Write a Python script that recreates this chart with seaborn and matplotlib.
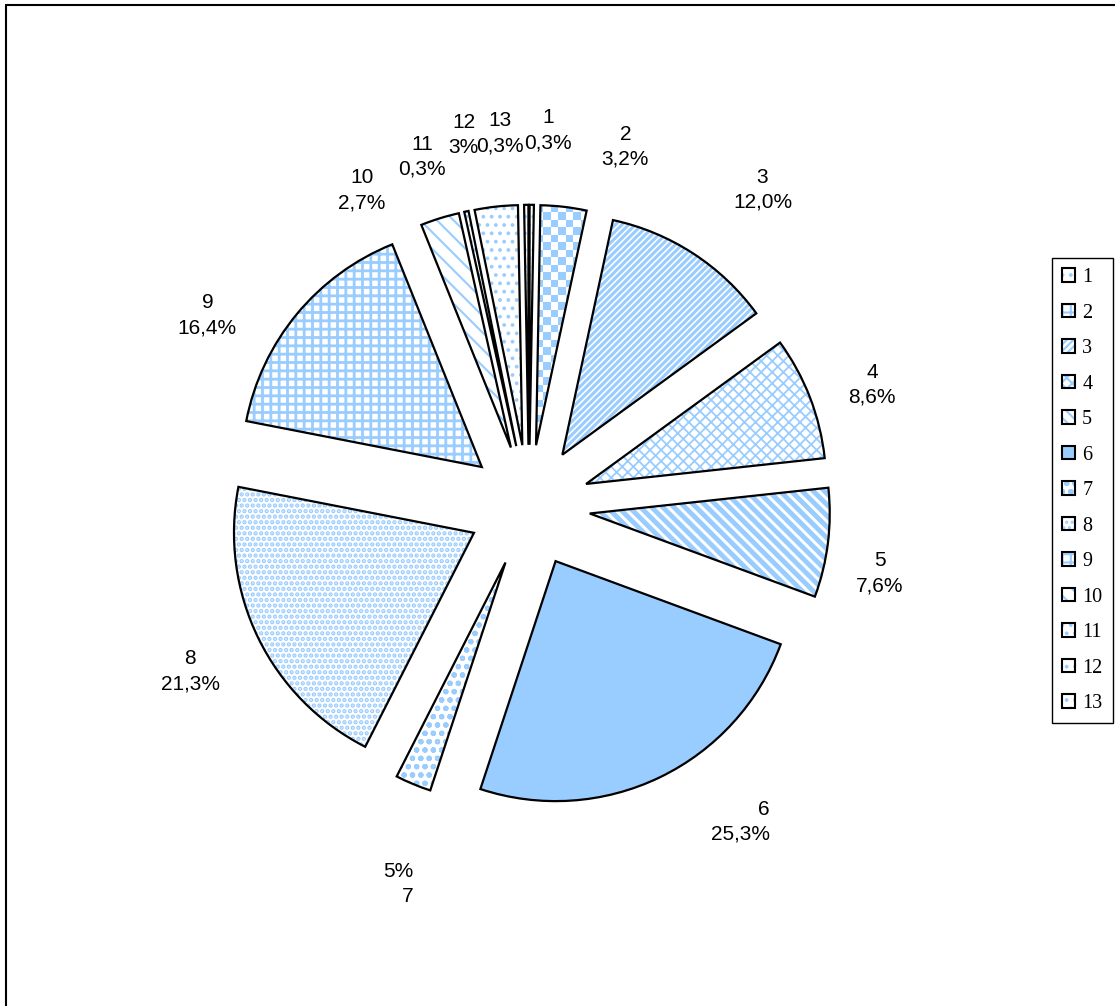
import numpy as np
import pandas as pd
import seaborn as sns
import matplotlib.pyplot as plt
from matplotlib.colors import ListedColormap
from matplotlib.patches import Patch
from matplotlib.legend_handler import HandlerTuple
from matplotlib.lines import Line2D

# data
categories = ['1', '2', '3', '4', '5', '6', '7', '8', '9', '10', '11', '12', '13']
shares = [0.3, 3.2, 12.0, 8.6, 7.6, 25.3, 2.5, 21.3, 16.4, 2.7, 0.3, 3.0, 0.3]
pct_text = ['0,3%', '3,2%', '12,0%', '8,6%', '7,6%', '25,3%', '5%',
            '21,3%', '16,4%', '2,7%', '0,3%', '3%', '0,3%']

df = pd.DataFrame({'cat': categories, 'share': shares, 'pct': pct_text})

sns.set_style('white')
plt.rcParams['font.family'] = ['Liberation Sans', 'DejaVu Sans']
plt.rcParams['text.color'] = 'black'
plt.rcParams['hatch.linewidth'] = 1.5

blue = '#99CCFF'
# fill patterns per slice (slice 2 gets a checkerboard image below)
hatches = ['..', None, '/////', 'xxx', '\\\\\\', None, 'oo', '...', '++', '\\\\', '..', '..', '..']
hatch_lw = [1.5, 1.5, 2.2, 1.3, 3.5, 1.5, 1.5, 2.2, 2.0, 1.5, 1.5, 1.5, 1.5]
faces = ['white'] * 5 + [blue] + ['white'] * 7

# label placement tweaks (clockwise degrees, radius in pie radii)
label_shift = [2.4, 8.4, 3.4, 1.7, 3.8, -8, -3.5, 0, -8.9, -10.7, -5, -3.7, -3.9]
label_rad = [1.567, 1.55, 1.638, 1.517, 1.488, 1.583, 1.667, 1.571, 1.558, 1.488, 1.521, 1.571, 1.558]

W, H = 1115, 1006
R = 240            # pixels per pie radius
cx, cy = 529, 506  # pie centre, pixels from top-left
explode = [0.255] * len(shares)

fig = plt.figure(figsize=(W / 100, H / 100), dpi=100)
ax = fig.add_axes([0, 0, 1, 1])

fill_w, _ = ax.pie(df['share'], explode=explode, startangle=90, counterclock=False,
                   colors=faces, wedgeprops=dict(linewidth=0, edgecolor=blue))
for w, h, lw in zip(fill_w, hatches, hatch_lw):
    if h:
        w.set_hatch(h)
        if hasattr(w, 'set_hatch_linewidth'):
            w.set_hatch_linewidth(lw)

# checkerboard texture for slice 2
w2 = fill_w[1]
ext = w2.get_path().get_extents()
cell = 7.5 / R
nx = int(np.ceil(ext.width / cell)) + 1
ny = int(np.ceil(ext.height / cell)) + 1
grid = np.add.outer(np.arange(ny), np.arange(nx)) % 2
im = ax.imshow(grid, cmap=ListedColormap(['white', blue]),
               extent=[ext.x0, ext.x0 + nx * cell, ext.y0, ext.y0 + ny * cell],
               origin='lower', interpolation='nearest', aspect='auto', zorder=1.5)
im.set_clip_path(w2)

edge_w, _ = ax.pie(df['share'], explode=explode, startangle=90, counterclock=False,
                   wedgeprops=dict(fill=False, edgecolor='black', linewidth=1.6, zorder=2))

for i, w in enumerate(fill_w):
    th = np.deg2rad((w.theta1 + w.theta2) / 2 - label_shift[i])
    x = label_rad[i] * np.cos(th)
    y = label_rad[i] * np.sin(th)
    if categories[i] == '7':
        txt = f"{df['pct'][i]}\n{df['cat'][i]}"
    else:
        txt = f"{df['cat'][i]}\n{df['pct'][i]}"
    ma = 'right' if categories[i] in ('6', '7') else 'center'
    ax.text(x, y, txt, ha='center', va='center', multialignment=ma,
            fontsize=15, linespacing=1.4, color='black')

ax.set_xlim(-cx / R, (W - cx) / R)
ax.set_ylim(-(H - cy) / R, cy / R)
ax.set_aspect('auto')
ax.axis('off')

# legend with hatched squares and black outlines
handles = []
for i in range(len(categories)):
    hh = hatches[i] if hatches[i] else ('++' if i == 1 else None)
    p1 = Patch(facecolor=faces[i], edgecolor=blue, hatch=hh, linewidth=0)
    p2 = Patch(facecolor='none', edgecolor='black', linewidth=1.5)
    handles.append((p1, p2))

leg = fig.legend(handles, categories, handler_map={tuple: HandlerTuple(ndivide=1, pad=0)},
                 loc='upper left', bbox_to_anchor=(1052 / W, 1 - 258 / H),
                 bbox_transform=fig.transFigure, borderaxespad=0, frameon=True,
                 fancybox=False, edgecolor='black', framealpha=1,
                 prop={'family': 'Liberation Serif', 'size': 14.5},
                 handlelength=0.65, handleheight=0.65, handletextpad=0.35,
                 labelspacing=0.82, borderpad=0.5, labelcolor='black')
leg.get_frame().set_linewidth(1.0)

# outer chart frame (left and top edges visible)
fig.add_artist(Line2D([6 / W, 6 / W], [0, 1 - 5 / H], color='black', lw=1.5,
                      transform=fig.transFigure))
fig.add_artist(Line2D([6 / W, 1], [1 - 5 / H, 1 - 5 / H], color='black', lw=1.5,
                      transform=fig.transFigure))

fig.savefig('out.png', dpi=100)
